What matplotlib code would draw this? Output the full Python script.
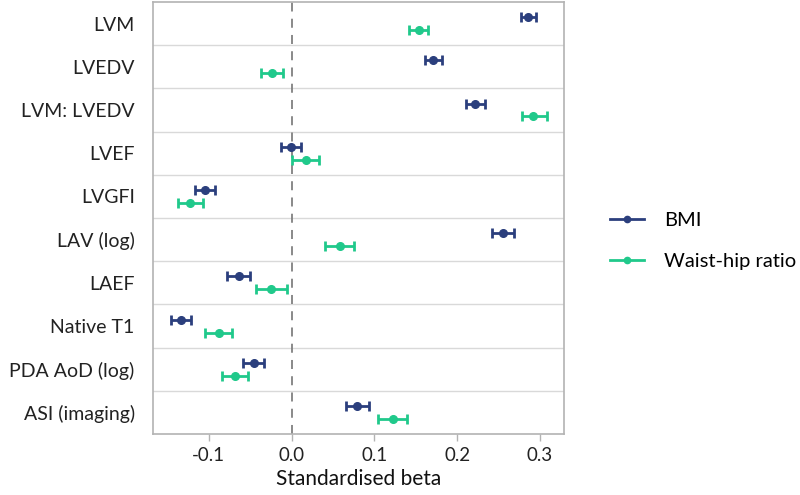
import numpy as np
import matplotlib.pyplot as plt
from matplotlib.lines import Line2D

plt.rcParams['font.family'] = ['Lato', 'DejaVu Sans']

# datos
categorias = ['LVM', 'LVEDV', 'LVM: LVEDV', 'LVEF', 'LVGFI', 'LAV (log)',
              'LAEF', 'Native T1', 'PDA AoD (log)', 'ASI (imaging)']

bmi_beta = [0.285, 0.171, 0.222, -0.001, -0.104, 0.255, -0.064, -0.134, -0.045, 0.079]
bmi_lo = [0.277, 0.161, 0.211, -0.013, -0.116, 0.242, -0.078, -0.146, -0.058, 0.066]
bmi_hi = [0.295, 0.182, 0.234, 0.012, -0.092, 0.269, -0.050, -0.121, -0.033, 0.093]

whr_beta = [0.154, -0.024, 0.292, 0.017, -0.123, 0.058, -0.025, -0.088, -0.068, 0.122]
whr_lo = [0.142, -0.037, 0.278, 0.001, -0.137, 0.041, -0.043, -0.104, -0.084, 0.105]
whr_hi = [0.165, -0.010, 0.308, 0.033, -0.107, 0.076, -0.006, -0.072, -0.052, 0.139]

ticks_x = [-0.1, 0.0, 0.1, 0.2, 0.3]

azul = '#2b3f7d'
verde = '#20c98b'
gris = '#b3b3b3'

fig = plt.figure(figsize=(8, 4.95), dpi=100)
ax = fig.add_axes([0.191, 0.123, 0.514, 0.873])

n = len(categorias)
y = np.arange(n)
desp = 0.15

def dibujar(beta, lo, hi, color, dy):
    beta = np.array(beta)
    err = [beta - np.array(lo), np.array(hi) - beta]
    ax.errorbar(beta, y + dy, xerr=err, fmt='o', color=color, ms=5.5,
                elinewidth=2, capsize=3.5, capthick=2, zorder=5)

dibujar(bmi_beta, bmi_lo, bmi_hi, azul, -desp)
dibujar(whr_beta, whr_lo, whr_hi, verde, desp)

ax.axvline(0, color='#808080', lw=1.3, ls=(0, (5, 4)), zorder=2)

for k in range(n - 1):
    ax.axhline(k + 0.5, color='#d9d9d9', lw=1, zorder=1)

ax.set_ylim(n - 0.5, -0.5)
ax.set_xlim(-0.1675, 0.329)
ax.set_yticks(y)
ax.set_yticklabels(categorias, fontsize=14, color='#222222')
ax.tick_params(axis='y', length=0, pad=13)
ax.set_xticks(ticks_x)
ax.set_xticklabels([f'{t:.1f}' for t in ticks_x], fontsize=13.5, color='#222222')
ax.tick_params(axis='x', length=5, width=1, color=gris, pad=4)
ax.set_xlabel('Standardised beta', fontsize=15, color='#111111', labelpad=4)

for s in ax.spines.values():
    s.set_color(gris)
    s.set_linewidth(1.2)

handles = [Line2D([0], [0], color=azul, lw=2, marker='o', ms=4.5),
           Line2D([0], [0], color=verde, lw=2, marker='o', ms=4.5)]
fig.legend(handles, ['BMI', 'Waist-hip ratio'], loc='center left',
           bbox_to_anchor=(0.74, 0.513), frameon=False, fontsize=14.5,
           handlelength=1.7, labelspacing=1.15, handletextpad=1.0)

fig.savefig('out.png', dpi=100)
